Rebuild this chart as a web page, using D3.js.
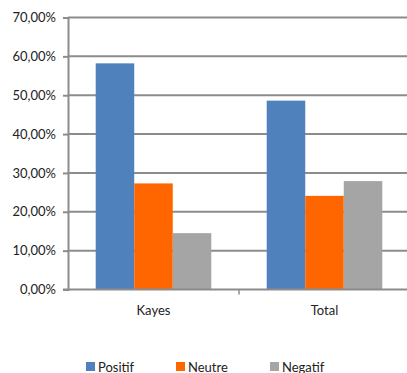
<!DOCTYPE html>
<html>
<head>
<meta charset="utf-8">
<script src="https://cdn.jsdelivr.net/npm/d3@7"></script>
<style>
  body { margin: 0; background: #fff; }
  text { font-family: Lato, "Open Sans", sans-serif; fill: #222; }
</style>
</head>
<body>
<div id="chart"></div>
<script>
let width = 407
let height = 373

let categories = ["Kayes", "Total"]
let series = ["Positif", "Neutre", "Negatif"]
let positif = [0.582, 0.486]
let neutre = [0.273, 0.241]
let negatif = [0.145, 0.279]
let yTicks = [0, 0.1, 0.2, 0.3, 0.4, 0.5, 0.6, 0.7]
let colors = ["#4f81bd", "#ff6600", "#a5a5a5"]

let values = [positif, neutre, negatif]

let svg = d3.select("#chart")
  .append("svg")
  .attr("width", width)
  .attr("height", height)

let plotLeft = 68, plotRight = 410, plotTop = 17.5, plotBottom = 289.5

let x = d3.scaleBand()
  .domain(categories)
  .range([plotLeft, plotRight])

let bw = x.bandwidth()
let x1 = d3.scaleBand()
  .domain(series)
  .range([bw * 0.162, bw * 0.838])

let y = d3.scaleLinear()
  .domain([0, 0.7])
  .range([plotBottom, plotTop])

let fmt = d => d3.format(".2f")(d * 100).replace(".", ",") + "%"

// gridlines
svg.append("g")
  .selectAll("line")
  .data(yTicks.slice(1))
  .enter()
  .append("line")
  .attr("x1", plotLeft)
  .attr("x2", width)
  .attr("y1", d => y(d))
  .attr("y2", d => y(d))
  .attr("stroke", "#8c8c8c")
  .attr("stroke-width", 2)

// bars
categories.forEach((c, i) => {
  svg.append("g")
    .selectAll("rect")
    .data(series)
    .enter()
    .append("rect")
    .attr("x", s => x(c) + x1(s))
    .attr("width", x1.bandwidth())
    .attr("y", (s, j) => y(values[j][i]))
    .attr("height", (s, j) => plotBottom - y(values[j][i]))
    .attr("fill", (s, j) => colors[j])
})

// y axis
let yAxis = d3.axisLeft(y)
  .tickValues(yTicks)
  .tickFormat(fmt)
  .tickSize(5)
  .tickPadding(7)

let gy = svg.append("g")
  .attr("transform", `translate(${plotLeft},0)`)
  .call(yAxis)
gy.select(".domain").attr("stroke", "#8c8c8c").attr("stroke-width", 2)
gy.selectAll(".tick line").attr("stroke", "#8c8c8c").attr("stroke-width", 2)
gy.selectAll("text").attr("font-size", 13).style("font-family", "Lato, sans-serif").attr("fill", "#222")

// x axis
svg.append("line")
  .attr("x1", plotLeft - 5)
  .attr("x2", width)
  .attr("y1", plotBottom)
  .attr("y2", plotBottom)
  .attr("stroke", "#8c8c8c")
  .attr("stroke-width", 2)

svg.append("line")
  .attr("x1", x("Total"))
  .attr("x2", x("Total"))
  .attr("y1", plotBottom)
  .attr("y2", plotBottom + 5)
  .attr("stroke", "#8c8c8c")
  .attr("stroke-width", 1.5)

svg.append("g")
  .selectAll("text")
  .data(categories)
  .enter()
  .append("text")
  .attr("x", d => x(d) + x1("Neutre") + x1.bandwidth() / 2)
  .attr("y", 315)
  .attr("text-anchor", "middle")
  .attr("font-size", 13)
  .text(d => d)

// legend
let legendX = [86, 176, 270]
let legend = svg.append("g")
  .selectAll("g")
  .data(series)
  .enter()
  .append("g")
  .attr("transform", (d, i) => `translate(${legendX[i]},362)`)

legend.append("rect")
  .attr("width", 9)
  .attr("height", 9)
  .attr("fill", (d, i) => colors[i])

legend.append("text")
  .attr("x", 12)
  .attr("y", 10)
  .attr("font-size", 13)
  .text(d => d)
</script>
</body>
</html>
